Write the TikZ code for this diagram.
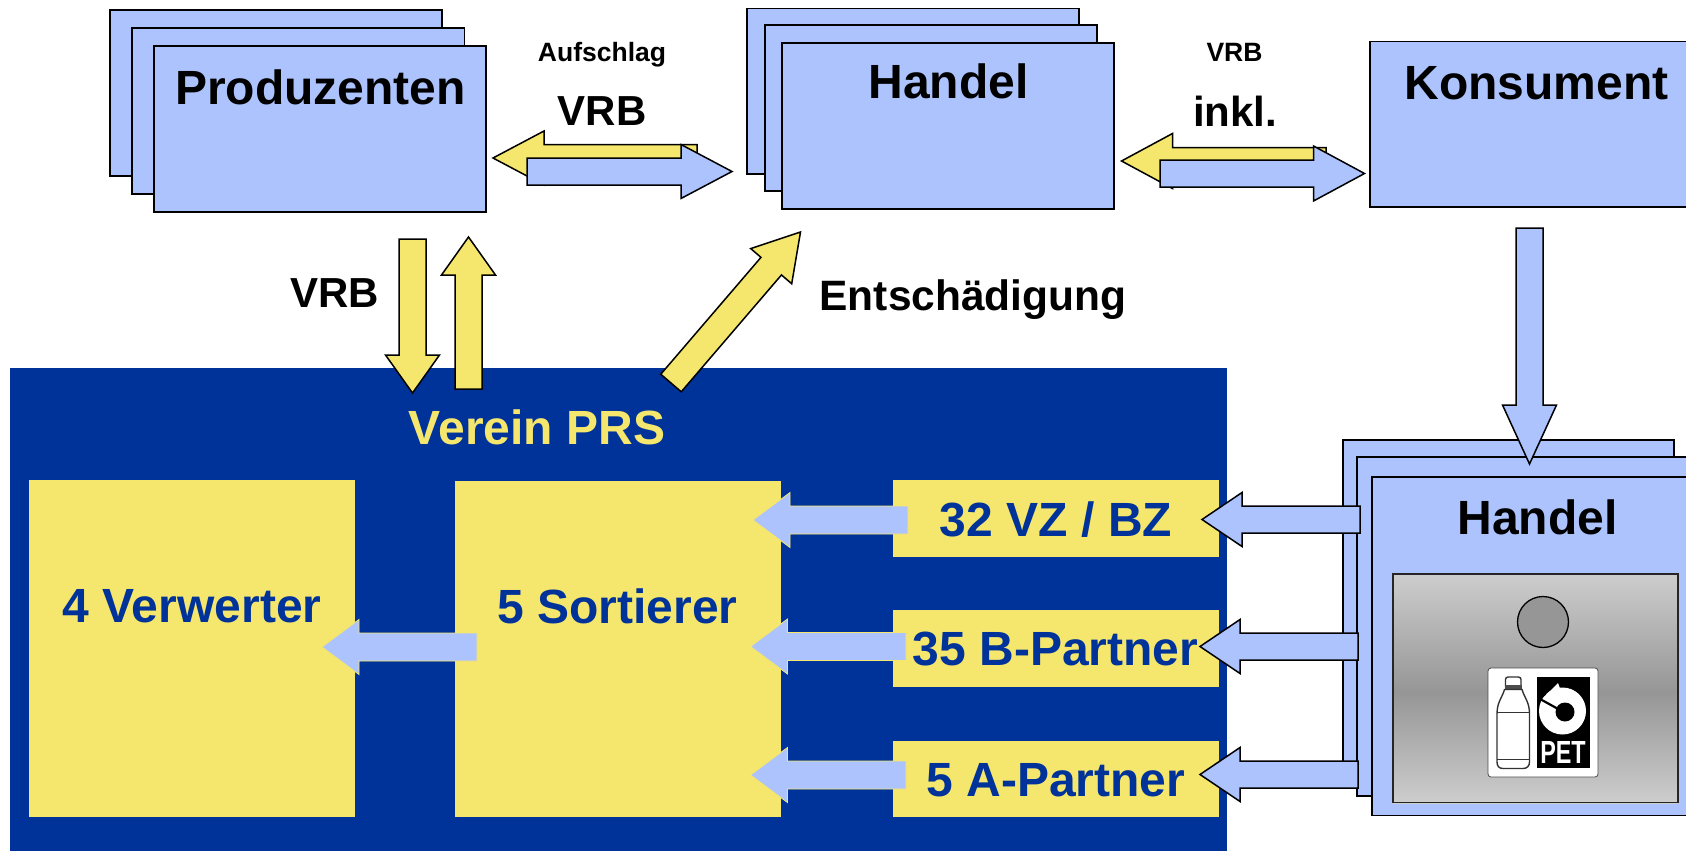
\documentclass[tikz,border=0pt]{standalone}
\usepackage{fontspec}
\setmainfont{Liberation Sans}
\usetikzlibrary{calc}
\definecolor{lblue}{HTML}{ADC3FD}
\definecolor{lyellow}{HTML}{F5E66D}
\definecolor{dblue}{HTML}{003399}
\definecolor{pgray}{HTML}{969696}
\definecolor{lgray}{HTML}{CDCDCD}
\newcommand{\fs}[1]{\fontsize{#1}{#1}\selectfont\bfseries}
% \boxnode[style]{name}{x1}{y1}{x2}{y2}
\newcommand{\boxnode}[6][]{%
  \pgfmathsetmacro{\bw}{#5-#3}\pgfmathsetmacro{\bh}{#6-#4}%
  \pgfmathsetmacro{\bx}{(#3+#5)/2}\pgfmathsetmacro{\by}{(#4+#6)/2}%
  \node[#1,minimum width=\bw pt,minimum height=\bh pt] (#2) at (\bx,\by) {};}
% \blockarrow[style]{tail}{tip}{shaft half}{head length}{head half}
\newcommand{\blockarrow}[6][]{%
  \coordinate (hb) at ($(#3)!#5pt!(#2)$);
  \filldraw[#1]
    ($(#2)!#4pt!90:(#3)$) -- ($(hb)!#4pt!90:(#3)$) -- ($(hb)!#6pt!90:(#3)$) --
    (#3) -- ($(hb)!#6pt!-90:(#3)$) -- ($(hb)!#4pt!-90:(#3)$) --
    ($(#2)!#4pt!-90:(#3)$) -- cycle;}
\tikzset{
  card/.style={draw=black,fill=lblue,line width=1.6pt,inner sep=0pt,outer sep=0pt},
  ybox/.style={fill=lyellow,draw=none,inner sep=0pt,outer sep=0pt},
  bluearrow/.style={draw=black,fill=lblue,line width=1.5pt,line join=miter},
  yelarrow/.style={draw=black,fill=lyellow,line width=1.5pt,line join=miter},
  innerarrow/.style={draw=lyellow,fill=lblue,line width=.8pt,line join=miter},
  big/.style={anchor=base,inner sep=0pt,font=\fs{48}},
  mid/.style={anchor=base,inner sep=0pt,font=\fs{42}},
  small/.style={anchor=base,inner sep=0pt,font=\fs{26.5}},
  dtext/.style={big,text=dblue},
}
\begin{document}
\begin{tikzpicture}[x=1pt,y=-1pt]
\clip (0,0) rectangle (1686,851);
\fill[white] (0,0) rectangle (1686,851);

% Verein panel
\boxnode[fill=dblue,inner sep=0pt,outer sep=0pt]{verein}{10}{368}{1227}{860}
\boxnode[ybox]{verw}{29}{480}{355}{816.5}
\boxnode[ybox]{sort}{455}{480.5}{781}{817}
\boxnode[ybox]{vz}{893}{480}{1219}{557}
\boxnode[ybox]{bp}{893}{610}{1219}{687}
\boxnode[ybox]{ap}{893}{740.5}{1219}{817}
\node[big,text=lyellow] (vereinT) at (537,444.5) {Verein PRS};

% Produzenten stack
\boxnode[card]{prodC}{110}{10}{442}{176}
\boxnode[card]{prodB}{132}{28}{464.5}{194}
\boxnode[card]{prodA}{154}{46}{486}{212}
\node[big] (prodT) at (320.5,104) {Produzenten};

% Handel stack (top)
\boxnode[card]{hanC}{747}{8.5}{1079}{174}
\boxnode[card]{hanB}{765}{25}{1097}{191}
\boxnode[card]{hanA}{782}{43}{1114}{209}
\node[big] (hanT) at (948.5,99) {Handel};

% Konsument
\boxnode[card]{kons}{1370}{41.5}{1720}{207}
\node[big] (konsT) at (1536.5,99.5) {Konsument};

% Handel stack (bottom)
\boxnode[card]{shopC}{1343}{440}{1674}{779}
\boxnode[card]{shopB}{1357}{457}{1720}{796}
\boxnode[card]{shopA}{1372}{477}{1720}{815.5}
\node[big] (shopT) at (1537.5,534) {Handel};

% vending machine
\shade[top color=lgray,bottom color=pgray] (1393,574) rectangle (1678,692);
\shade[top color=pgray,bottom color=lgray] (1393,692) rectangle (1678,803);
\draw[line width=1.4pt,black!85] (1393,574) rectangle (1678,802.5);
\node[circle,draw=black,fill=pgray,line width=1.3pt,minimum size=51pt,inner sep=0pt] (slot) at (1543,622) {};

% PET logo
\draw[rounded corners=3pt,fill=white,draw=black!70,line width=.8pt] (1488,668) rectangle (1598,777);
\fill[black] (1537,677) rectangle (1590,768);
\fill[white] (1562.5,711) circle (23.5);
\fill[black] (1565,712) circle (9.5);
\fill[black] (1539,686) -- (1547,686) -- (1546,695) -- (1539,698) -- cycle;
\draw[black,line width=2.2pt] (1540,699) -- (1560,710);
\fill[white] (1546,695) -- (1558,683) -- (1561,691) -- (1556,702) -- cycle;
\node[anchor=base,inner sep=0pt,text=white,font=\fs{32}] (petT) at (1563,763) {\scalebox{.73}[1]{PET}};
% bottle
\begin{scope}[draw=black!80,line width=1.4pt,fill=white]
\filldraw[rounded corners=2.5pt] (1505.5,689) -- (1505.5,677) -- (1521,677) -- (1521,689) -- cycle;
\fill[black!70] (1504.5,684.5) rectangle (1522,689.5);
\filldraw (1504.5,689.5) .. controls (1502,698) and (1497,702) .. (1497,714)
  -- (1497,762) .. controls (1497,766) and (1499,768.5) .. (1503,768.5)
  -- (1523,768.5) .. controls (1527,768.5) and (1529.5,766) .. (1529.5,762)
  -- (1529.5,714) .. controls (1529.5,702) and (1524.5,698) .. (1522,689.5) -- cycle;
\draw (1497,712.5) -- (1529.5,712.5);
\draw (1497,759.5) -- (1529.5,759.5);
\end{scope}

% connector end points
\coordinate (a1t) at (697,158); \coordinate (a1h) at (493,158);
\coordinate (a2t) at (527,171.5); \coordinate (a2h) at (732,171.5);
\coordinate (a3t) at (1326,161); \coordinate (a3h) at (1121.5,161);
\coordinate (a4t) at (1160,173.5); \coordinate (a4h) at (1364.5,173.5);
\coordinate (a5t) at (412.5,239); \coordinate (a5h) at (412.5,393);
\coordinate (a6t) at (468.5,389); \coordinate (a6h) at (468.5,237);
\coordinate (a7t) at (671,383); \coordinate (a7h) at (800.5,232);
\coordinate (a8t) at (1529.5,228); \coordinate (a8h) at (1529.5,464);
\coordinate (b1t) at (1360,519.5); \coordinate (b1h) at (1202,519.5);
\coordinate (b2t) at (1358,646.5); \coordinate (b2h) at (1200,646.5);
\coordinate (b3t) at (1358,774.5); \coordinate (b3h) at (1200,774.5);
\coordinate (c1t) at (908,520); \coordinate (c1h) at (753,520);
\coordinate (c2t) at (906,646.5); \coordinate (c2h) at (750.5,646.5);
\coordinate (c3t) at (906,775); \coordinate (c3h) at (750.5,775);
\coordinate (c4t) at (477,647); \coordinate (c4h) at (322,647);

% block arrows
\blockarrow[yelarrow]{a1t}{a1h}{13.5}{51}{27}
\blockarrow[bluearrow]{a2t}{a2h}{13.5}{51}{27}
\blockarrow[yelarrow]{a3t}{a3h}{13.5}{51}{27.5}
\blockarrow[bluearrow]{a4t}{a4h}{13.5}{51}{27.5}
\blockarrow[yelarrow]{a5t}{a5h}{13.5}{38}{27}
\blockarrow[yelarrow]{a6t}{a6h}{13.5}{38}{27}
\blockarrow[yelarrow]{a7t}{a7h}{13.5}{45}{27}
\blockarrow[bluearrow]{a8t}{a8h}{13.5}{59}{27}
\blockarrow[bluearrow]{b1t}{b1h}{13.5}{40}{27}
\blockarrow[bluearrow]{b2t}{b2h}{13.5}{40}{27}
\blockarrow[bluearrow]{b3t}{b3h}{13.5}{40}{27}
\blockarrow[innerarrow]{c1t}{c1h}{14}{37}{27.5}
\blockarrow[innerarrow]{c2t}{c2h}{14}{37}{27.5}
\blockarrow[innerarrow]{c3t}{c3h}{14}{37}{27.5}
\blockarrow[innerarrow]{c4t}{c4h}{14}{37}{27.5}

% labels
\node[small] (aufT) at (602,62) {Aufschlag};
\node[mid] (vrb1T) at (602,125) {VRB};
\node[mid] (vrb2T) at (334.5,307) {VRB};
\node[small] (vrb3T) at (1234.5,62) {VRB};
\node[mid] (inklT) at (1235,126) {inkl.};
\node[anchor=base,inner sep=0pt,font=\fs{42.5}] (entT) at (973,310) {Entschädigung};
\node[dtext] (verwT) at (192,622.5) {4 Verwerter};
\node[dtext] (sortT) at (617.5,623.5) {5 Sortierer};
\node[dtext] (vzT) at (1056,536.5) {32 VZ / BZ};
\node[dtext] (bpT) at (1055.5,665.5) {35 B-Partner};
\node[dtext] (apT) at (1056,796.5) {5 A-Partner};
\end{tikzpicture}
\end{document}
